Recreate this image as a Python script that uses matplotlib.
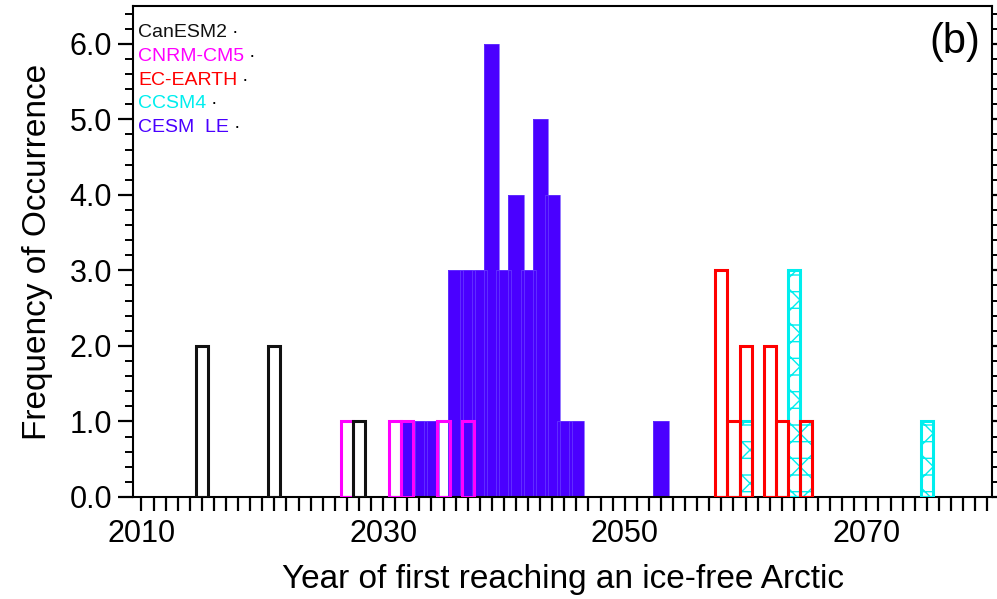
import numpy as np
import matplotlib.pyplot as plt
from matplotlib.ticker import MultipleLocator, FixedLocator, FormatStrFormatter
from matplotlib.offsetbox import TextArea, HPacker, VPacker, AnchoredOffsetbox

plt.rcParams['font.family'] = ['Liberation Sans', 'DejaVu Sans']
plt.rcParams['hatch.linewidth'] = 1.0

# 各模式首次出现无冰北极的年份及频数
can_years = [2015, 2021, 2028]
can_freq = [2, 2, 1]
cnrm_years = [2027, 2031, 2032, 2035, 2037]
cnrm_freq = [1, 1, 1, 1, 1]
ec_years = [2058, 2059, 2060, 2062, 2063, 2065]
ec_freq = [3, 1, 2, 2, 1, 1]
ccsm_years = [2060, 2064, 2065, 2075]
ccsm_freq = [1, 3, 1, 1]
cesm_years = [2032, 2033, 2034, 2036, 2037, 2038, 2039, 2040, 2041, 2042,
              2043, 2044, 2045, 2046, 2053]
cesm_freq = [1, 1, 1, 3, 3, 3, 6, 3, 4, 3, 5, 4, 1, 1, 1]

models = ['CanESM2', 'CNRM-CM5', 'EC-EARTH', 'CCSM4', 'CESM  LE']
colors = ['#111111', '#ff00ff', '#ff0000', '#00eeee', '#4a00ff']

fig = plt.figure(figsize=(9.97, 5.99), dpi=100)
ax = fig.add_axes([0.1334, 0.1703, 0.8616, 0.8197])

# CESM LE：实心柱，浅色细边
ax.bar(cesm_years, cesm_freq, width=1.25, color=colors[4], linewidth=0, zorder=2)
ax.bar(cesm_years, cesm_freq, width=1.25, fill=False, edgecolor='#6a40ff',
       linewidth=0.5, zorder=2.1)
# CCSM4：网格填充
ax.bar(ccsm_years, ccsm_freq, width=1.0, fill=False, edgecolor=colors[3],
       hatch='x-', linewidth=2.2, zorder=3)
# 其余模式：空心柱
ax.bar(ec_years, ec_freq, width=1.0, fill=False, edgecolor=colors[2],
       linewidth=2.2, zorder=4)
ax.bar(cnrm_years, cnrm_freq, width=1.0, fill=False, edgecolor=colors[1],
       linewidth=2.2, zorder=5)
ax.bar(can_years, can_freq, width=1.0, fill=False, edgecolor=colors[0],
       linewidth=2.2, zorder=6)

ax.set_xlim(2009.3, 2080.4)
ax.set_ylim(0, 6.5)
ax.xaxis.set_major_locator(FixedLocator([2010, 2030, 2050, 2070]))
ax.xaxis.set_minor_locator(MultipleLocator(1))
ax.yaxis.set_major_locator(MultipleLocator(1))
ax.yaxis.set_minor_locator(MultipleLocator(0.2))
ax.yaxis.set_major_formatter(FormatStrFormatter('%.1f'))

ax.tick_params(axis='x', which='both', direction='out', length=10, width=1.6,
               labelsize=22, pad=6)
ax.tick_params(axis='y', which='major', direction='out', length=11, width=1.6,
               labelsize=22, right=True, pad=4)
ax.tick_params(axis='y', which='minor', direction='out', length=6, width=1.4,
               right=True)
for sp in ax.spines.values():
    sp.set_linewidth(1.5)

ax.set_xlabel('Year of first reaching an ice-free Arctic', fontsize=24, labelpad=11)
ax.set_ylabel('Frequency of Occurrence', fontsize=24, labelpad=12)

ax.text(0.957, 0.927, '(b)', transform=ax.transAxes, ha='center', va='center',
        fontsize=30)

# 图例：彩色模式名 + 黑色小点
rows = []
for name, c in zip(models, colors):
    rows.append(HPacker(children=[TextArea(name, textprops=dict(color=c, fontsize=14)),
                                  TextArea('·', textprops=dict(color='black', fontsize=14))],
                        sep=3, align='baseline', pad=0))
box = VPacker(children=rows, sep=5, align='left', pad=0)
leg = AnchoredOffsetbox(loc='upper left', child=box, pad=0, borderpad=0,
                        frameon=False, bbox_to_anchor=(0.006, 0.964),
                        bbox_transform=ax.transAxes)
ax.add_artist(leg)

fig.savefig('out.png', dpi=100)
